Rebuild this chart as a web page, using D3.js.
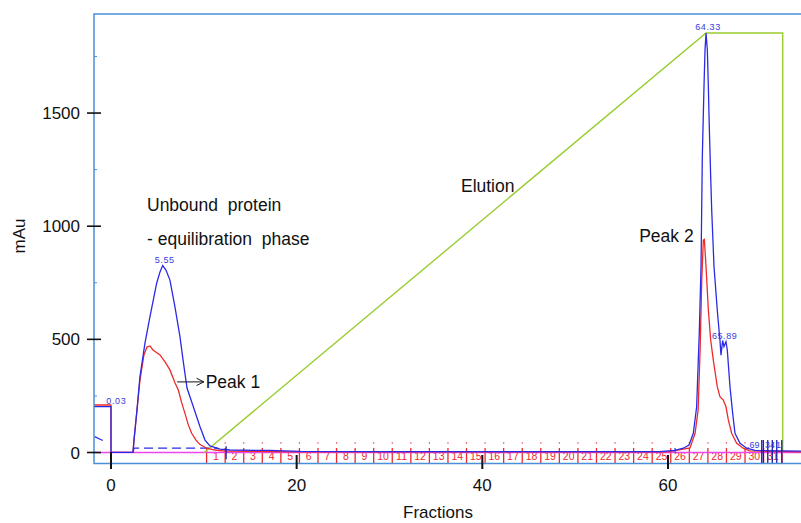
<!DOCTYPE html>
<html>
<head>
<meta charset="utf-8">
<script src="https://cdn.jsdelivr.net/npm/d3@7"></script>
<style>
  html, body { margin: 0; padding: 0; background: #fff; }
  svg { display: block; font-family: "Liberation Sans", Arial, sans-serif; }
</style>
</head>
<body>
<svg id="chart" width="801" height="523"></svg>
<script>
// ---------- data ----------
const xTicks = [0, 20, 40, 60];
const yTicks = [0, 500, 1000, 1500];
const yMinorTicks = [250, 750, 1250, 1750];

// UV trace (blue) : [fraction axis value, mAu]
const uvBlue = [
  [-1.83, 203], [0, 203], [0, 1], [2.37, 1], [2.48, 55], [2.8, 188], [3.12, 335], [3.66, 483],
  [4.2, 600], [4.92, 748], [5.28, 798], [5.57, 826], [5.92, 806], [6.35, 762], [6.89, 644],
  [7.43, 512], [7.76, 409], [8.19, 285], [8.87, 202], [9.59, 114], [10.13, 55], [10.66, 29],
  [11.74, 15], [12.82, 11], [17.1, 9], [20.4, 5], [30, 4], [40, 4], [50, 4], [59.1, 4],
  [60.76, 9], [61.65, 19], [62.27, 33], [62.73, 85], [63.09, 202], [63.37, 527], [63.56, 821],
  [63.63, 1072], [63.7, 1307], [63.88, 1616], [63.99, 1779], [64.1, 1854], [64.24, 1779],
  [64.35, 1616], [64.45, 1440], [64.6, 1219], [64.71, 1072], [64.96, 821], [65.31, 630],
  [65.53, 527], [65.6, 497], [65.71, 430], [65.89, 495], [66.03, 468], [66.25, 490],
  [66.39, 453], [66.68, 291], [66.97, 173], [67.22, 85], [67.76, 41], [68.48, 19],
  [69.37, 9], [74.33, 6]
];

// second UV trace (red)
const uvRed = [
  [-1.83, 210], [0, 210], [0, 1], [2.37, 1], [2.48, 55], [2.8, 188], [3.12, 320], [3.55, 431],
  [3.88, 466], [4.2, 471], [4.52, 453], [5.28, 431], [5.82, 400], [6.35, 365], [6.89, 308],
  [7.25, 276], [7.62, 219], [7.97, 173], [8.33, 122], [8.69, 85], [9.16, 55], [9.59, 35],
  [10.31, 19], [11.2, 11], [12.3, 6], [20, 3], [40, 3], [60, 3], [62.37, 20], [62.92, 85],
  [63.25, 188], [63.46, 453], [63.64, 762], [63.81, 939], [63.92, 942], [64.1, 821],
  [64.35, 630], [64.6, 497], [64.88, 409], [65.31, 291], [65.6, 247], [65.96, 232],
  [66.25, 202], [66.5, 144], [66.86, 85], [67.4, 41], [68.11, 19], [68.8, 7], [74.33, 3]
];

// dashed blue trace (null = gap)
const uvDashed = [
  [-1.76, 70], [-0.6, 47], null, [2.4, 2], [2.48, 19], [11.5, 19]
];

// gradient (green)
const gradient = [
  [10.05, 0], [64.1, 1854], [72.36, 1854], [72.36, 0]
];

// baseline trace (magenta)
const baseline = [[-1.83, 0], [74.33, 0]];

// fractions
const fractionLabels = [1,2,3,4,5,6,7,8,9,10,11,12,13,14,15,16,17,18,19,20,21,22,23,24,25,26,27,28,29,30,31];
const fractionEdges = [10.3,12.3,14.3,16.3,18.3,20.3,22.3,24.3,26.3,28.3,30.3,32.3,34.3,36.3,38.3,40.3,
  42.3,44.3,46.3,48.3,50.3,52.3,54.3,56.3,58.3,60.3,62.3,64.3,66.3,68.3,70.3,72.3];

// event markers (navy)
const eventMarks = [12.4, 70.1, 70.27, 70.75, 71.24, 71.72, 72.26];

// peak labels
const peakLabels = [
  { x: 5.57, y: 826, text: "5.55" },
  { x: 64.1, y: 1854, text: "64.33" },
  { x: 65.89, y: 490, text: "65.89" },
  { x: -0.5, y: 203, text: "0.03" }
];
const endLabels = [
  { x: 68.5, text: ".69" },
  { x: 70.45, text: "34" },
  { x: 71.65, text: "1" }
];

// annotations
const annotations = [
  { x: 3.88, y: 1092, text: "Unbound  protein" },
  { x: 3.88, y: 942, text: "- equilibration  phase" },
  { x: 10.2, y: 312, text: "Peak 1" },
  { x: 37.7, y: 1178, text: "Elution" },
  { x: 56.9, y: 956, text: "Peak 2" }
];

// ---------- drawing ----------
const svg = d3.select("#chart");
const x = d3.scaleLinear().domain([-1.83, 74.33]).range([94, 801]);
const y = d3.scaleLinear().domain([-48.6, 1937.7]).range([463.5, 14]);

const frameColor = "#4a8fd8";
const blue = "#2a2ae6";
const red = "#ee2a2a";
const green = "#9acd32";
const magenta = "#ee44ee";

svg.append("defs").append("clipPath").attr("id", "clip")
  .append("rect").attr("x", 94).attr("y", 14).attr("width", 707).attr("height", 449.5);

const line = d3.line().defined(d => d !== null).x(d => x(d[0])).y(d => y(d[1]));

const plot = svg.append("g").attr("clip-path", "url(#clip)");

// fraction dots
plot.selectAll(".fdot").data(fractionEdges.slice(1)).join("rect")
  .attr("x", d => x(d) - 0.6).attr("y", y(45)).attr("width", 1.2).attr("height", 1.2)
  .attr("fill", red);

// fraction boundary lines
plot.selectAll(".fline").data(fractionEdges).join("line")
  .attr("x1", d => x(d)).attr("x2", d => x(d))
  .attr("y1", y(20)).attr("y2", y(-48.6))
  .attr("stroke", red).attr("stroke-width", 1.3);

// fraction labels
plot.selectAll(".flab").data(fractionLabels).join("text")
  .attr("x", (d, i) => (x(fractionEdges[i]) + x(fractionEdges[i + 1])) / 2)
  .attr("y", y(-31))
  .attr("text-anchor", "middle")
  .attr("font-size", 10.5)
  .attr("fill", red)
  .text(d => d);

// baseline
plot.append("path").datum(baseline).attr("d", line)
  .attr("fill", "none").attr("stroke", magenta).attr("stroke-width", 1.6);

// gradient
plot.append("path").datum(gradient).attr("d", line)
  .attr("fill", "none").attr("stroke", green).attr("stroke-width", 1.4);

// dashed
plot.append("path").datum(uvDashed).attr("d", line)
  .attr("fill", "none").attr("stroke", blue).attr("stroke-width", 1.2)
  .attr("stroke-dasharray", "9,5");

// red
plot.append("path").datum(uvRed).attr("d", line)
  .attr("fill", "none").attr("stroke", red).attr("stroke-width", 1.3);

// blue
plot.append("path").datum(uvBlue).attr("d", line)
  .attr("fill", "none").attr("stroke", blue).attr("stroke-width", 1.3);

// event markers
plot.selectAll(".ev").data(eventMarks).join("line")
  .attr("x1", d => x(d)).attr("x2", d => x(d))
  .attr("y1", (d, i) => i === 0 ? y(28) : y(55))
  .attr("y2", (d, i) => i === 0 ? y(-30) : y(-48.6))
  .attr("stroke", "#1c1ca8").attr("stroke-width", 1.3);
plot.append("line")
  .attr("x1", x(60.76)).attr("x2", x(60.76)).attr("y1", y(20)).attr("y2", y(0))
  .attr("stroke", blue).attr("stroke-width", 1.2);

// peak labels
svg.selectAll(".pk").data(peakLabels).join("text")
  .attr("x", d => d.text === "0.03" ? x(d.x) : x(d.x) + 2)
  .attr("y", d => y(d.y) - 3)
  .attr("text-anchor", d => d.text === "0.03" ? "start" : "middle")
  .attr("font-size", 9)
  .attr("letter-spacing", 0.6)
  .attr("fill", "#3a3ae0")
  .text(d => d.text);
svg.selectAll(".el").data(endLabels).join("text")
  .attr("x", d => x(d.x)).attr("y", y(19))
  .attr("font-size", 9).attr("fill", "#3a3ae0")
  .text(d => d.text);

// frame
svg.append("path")
  .attr("d", `M801,${y(1937.7)}H${x(-1.83)}V${y(-48.6)}H801`)
  .attr("fill", "none").attr("stroke", frameColor).attr("stroke-width", 1.5);

// y axis ticks and labels
svg.selectAll(".ytk").data(yTicks).join("line")
  .attr("x1", 87).attr("x2", 101).attr("y1", d => y(d)).attr("y2", d => y(d))
  .attr("stroke", "#111").attr("stroke-width", 1.6);
svg.selectAll(".ymn").data(yMinorTicks).join("line")
  .attr("x1", 94).attr("x2", 97).attr("y1", d => y(d)).attr("y2", d => y(d))
  .attr("stroke", frameColor).attr("stroke-width", 1);
svg.selectAll(".ylab").data(yTicks).join("text")
  .attr("x", 80).attr("y", d => y(d) + 6)
  .attr("text-anchor", "end").attr("font-size", 17).attr("fill", "#111")
  .text(d => d);

// x axis ticks and labels
svg.selectAll(".xtk").data(xTicks).join("line")
  .attr("x1", d => x(d)).attr("x2", d => x(d))
  .attr("y1", d => d === 0 ? 452 : 455).attr("y2", 469)
  .attr("stroke", "#111").attr("stroke-width", 2);
svg.selectAll(".xlab").data(xTicks).join("text")
  .attr("x", d => x(d)).attr("y", 491)
  .attr("text-anchor", "middle").attr("font-size", 17).attr("fill", "#111")
  .text(d => d);

// axis titles
svg.append("text").attr("x", 438).attr("y", 518)
  .attr("text-anchor", "middle").attr("font-size", 17).attr("fill", "#111")
  .text("Fractions");
svg.append("text").attr("transform", "translate(25,236) rotate(-90)")
  .attr("text-anchor", "middle").attr("font-size", 17).attr("fill", "#111")
  .text("mAu");

// annotations
svg.selectAll(".ann").data(annotations).join("text")
  .attr("x", d => x(d.x)).attr("y", d => y(d.y) + 6)
  .attr("font-size", 17.5).attr("fill", "#111")
  .attr("xml:space", "preserve")
  .style("white-space", "pre")
  .text(d => d.text);

// arrow for Peak 1
svg.append("defs").append("marker").attr("id", "arr")
  .attr("viewBox", "0 0 10 10").attr("refX", 9).attr("refY", 5)
  .attr("markerWidth", 9).attr("markerHeight", 9).attr("orient", "auto")
  .attr("markerUnits", "userSpaceOnUse")
  .append("path").attr("d", "M1,1L9,5L1,9").attr("fill", "none")
  .attr("stroke", "#111").attr("stroke-width", 1.1);
svg.append("line")
  .attr("x1", x(7.12)).attr("x2", x(10.0)).attr("y1", y(312)).attr("y2", y(312))
  .attr("stroke", "#111").attr("stroke-width", 1).attr("marker-end", "url(#arr)");
</script>
</body>
</html>
